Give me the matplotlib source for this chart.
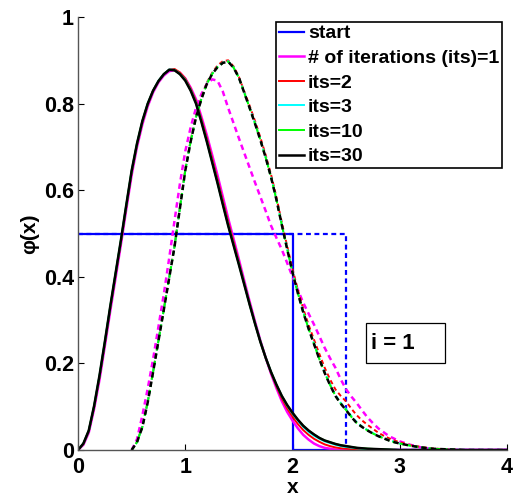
import numpy as np
import matplotlib
matplotlib.use("Agg")
import matplotlib.pyplot as plt
from matplotlib.patches import Rectangle

plt.rcParams['font.family'] = ['Liberation Sans', 'DejaVu Sans']
plt.rcParams['font.weight'] = 'bold'

# values
# solid curves: x = 0.00 .. 2.50 step 0.05, then 2.6 .. 4.0 step 0.1
x_solid = np.round(np.r_[np.arange(0, 2.501, 0.05), np.arange(2.6, 4.001, 0.1)], 2)
its1 = [0, 0.012, 0.040, 0.095, 0.162, 0.240, 0.320, 0.397, 0.475, 0.556,
        0.635, 0.700, 0.752, 0.794, 0.826, 0.849, 0.865, 0.875, 0.877, 0.871,
        0.858, 0.837, 0.810, 0.770, 0.728, 0.682, 0.635, 0.585, 0.535, 0.488,
        0.440, 0.391, 0.343, 0.297, 0.253, 0.213, 0.176, 0.143, 0.113, 0.088,
        0.068, 0.050, 0.035, 0.024, 0.015, 0.009, 0.005, 0.003, 0.001, 0,
        0,
        0, 0, 0, 0, 0, 0, 0, 0, 0, 0, 0, 0, 0, 0, 0]
its2 = [0, 0.014, 0.043, 0.099, 0.168, 0.246, 0.327, 0.404, 0.481, 0.562,
        0.641, 0.705, 0.757, 0.798, 0.830, 0.852, 0.868, 0.879, 0.880, 0.872,
        0.858, 0.835, 0.806, 0.765, 0.721, 0.674, 0.626, 0.576, 0.527, 0.481,
        0.434, 0.386, 0.339, 0.294, 0.251, 0.213, 0.178, 0.147, 0.119, 0.096,
        0.077, 0.060, 0.046, 0.035, 0.026, 0.019, 0.013, 0.009, 0.006, 0.004,
        0.003,
        0.001, 0, 0, 0, 0, 0, 0, 0, 0, 0, 0, 0, 0, 0, 0]
its3 = [0, 0.015, 0.044, 0.101, 0.171, 0.249, 0.330, 0.407, 0.484, 0.565,
        0.644, 0.707, 0.759, 0.800, 0.830, 0.853, 0.868, 0.879, 0.878, 0.869,
        0.855, 0.832, 0.802, 0.760, 0.715, 0.667, 0.619, 0.569, 0.520, 0.475,
        0.430, 0.384, 0.337, 0.293, 0.251, 0.213, 0.180, 0.150, 0.124, 0.102,
        0.084, 0.068, 0.053, 0.042, 0.033, 0.026, 0.020, 0.016, 0.012, 0.009,
        0.007,
        0.004, 0.002, 0.001, 0, 0, 0, 0, 0, 0, 0, 0, 0, 0, 0, 0]
its10 = [0, 0.015, 0.045, 0.102, 0.171, 0.250, 0.331, 0.408, 0.485, 0.566,
         0.645, 0.708, 0.760, 0.800, 0.830, 0.852, 0.868, 0.878, 0.877, 0.868,
         0.854, 0.831, 0.801, 0.759, 0.714, 0.666, 0.618, 0.568, 0.519, 0.474,
         0.429, 0.383, 0.336, 0.292, 0.250, 0.213, 0.180, 0.151, 0.125, 0.104,
         0.086, 0.070, 0.056, 0.045, 0.036, 0.028, 0.022, 0.018, 0.014, 0.011,
         0.009,
         0.005, 0.003, 0.002, 0.001, 0, 0, 0, 0, 0, 0, 0, 0, 0, 0, 0]
its30 = [0, 0.015, 0.045, 0.102, 0.172, 0.250, 0.331, 0.408, 0.485, 0.566,
         0.645, 0.708, 0.760, 0.800, 0.830, 0.852, 0.868, 0.878, 0.877, 0.868,
         0.853, 0.830, 0.800, 0.758, 0.713, 0.665, 0.617, 0.567, 0.518, 0.473,
         0.428, 0.382, 0.336, 0.292, 0.250, 0.213, 0.180, 0.151, 0.125, 0.104,
         0.086, 0.070, 0.056, 0.045, 0.036, 0.028, 0.022, 0.018, 0.014, 0.011,
         0.009,
         0.005, 0.003, 0.002, 0.001, 0, 0, 0, 0, 0, 0, 0, 0, 0, 0, 0]

# dashed curves: x = 0.50 .. 3.00 step 0.05, then 3.1 .. 4.0 step 0.1
x_dash = np.round(np.r_[np.arange(0.5, 3.001, 0.05), np.arange(3.1, 4.001, 0.1)], 2)
its1_d = [0, 0.025, 0.080, 0.142, 0.210, 0.285, 0.360, 0.443, 0.530, 0.615,
          0.690, 0.745, 0.790, 0.822, 0.845, 0.856, 0.853, 0.828, 0.790, 0.755,
          0.720, 0.686, 0.652, 0.618, 0.585, 0.552, 0.518, 0.490, 0.463, 0.432,
          0.400, 0.370, 0.340, 0.315, 0.290, 0.263, 0.236, 0.212, 0.190, 0.163,
          0.140, 0.123, 0.108, 0.091, 0.075, 0.062, 0.050, 0.041, 0.032, 0.026,
          0.020,
          0.012, 0.006, 0.003, 0.001, 0, 0, 0, 0, 0, 0]
its2_d = [0, 0.019, 0.055, 0.112, 0.182, 0.254, 0.326, 0.399, 0.472, 0.560,
          0.648, 0.715, 0.771, 0.813, 0.848, 0.871, 0.888, 0.898, 0.900, 0.886,
          0.862, 0.828, 0.795, 0.760, 0.722, 0.681, 0.636, 0.584, 0.526, 0.471,
          0.418, 0.370, 0.326, 0.289, 0.255, 0.222, 0.190, 0.163, 0.140, 0.125,
          0.112, 0.095, 0.080, 0.068, 0.058, 0.049, 0.040, 0.033, 0.027, 0.022,
          0.018,
          0.011, 0.007, 0.004, 0.002, 0.001, 0, 0, 0, 0, 0]
its3_d = [0, 0.018, 0.054, 0.111, 0.181, 0.253, 0.325, 0.398, 0.471, 0.559,
          0.646, 0.713, 0.769, 0.811, 0.846, 0.869, 0.885, 0.895, 0.898, 0.884,
          0.860, 0.826, 0.791, 0.755, 0.717, 0.676, 0.631, 0.579, 0.521, 0.465,
          0.411, 0.363, 0.319, 0.281, 0.246, 0.211, 0.180, 0.152, 0.127, 0.109,
          0.094, 0.078, 0.064, 0.054, 0.046, 0.039, 0.033, 0.028, 0.023, 0.019,
          0.015,
          0.010, 0.006, 0.003, 0.002, 0.001, 0, 0, 0, 0, 0]
its10_d = [0, 0.018, 0.053, 0.110, 0.180, 0.252, 0.324, 0.397, 0.470, 0.558,
           0.645, 0.712, 0.768, 0.810, 0.845, 0.868, 0.884, 0.894, 0.897, 0.883,
           0.860, 0.825, 0.790, 0.754, 0.716, 0.675, 0.630, 0.578, 0.520, 0.464,
           0.410, 0.362, 0.318, 0.280, 0.245, 0.210, 0.178, 0.150, 0.125, 0.107,
           0.092, 0.076, 0.062, 0.053, 0.045, 0.038, 0.032, 0.027, 0.022, 0.018,
           0.015,
           0.010, 0.006, 0.003, 0.002, 0.001, 0, 0, 0, 0, 0]
its30_d = [0, 0.018, 0.053, 0.110, 0.180, 0.252, 0.324, 0.397, 0.470, 0.558,
           0.645, 0.712, 0.768, 0.810, 0.845, 0.868, 0.884, 0.894, 0.897, 0.883,
           0.860, 0.825, 0.790, 0.754, 0.716, 0.675, 0.630, 0.578, 0.520, 0.464,
           0.410, 0.362, 0.318, 0.280, 0.245, 0.210, 0.178, 0.150, 0.125, 0.107,
           0.092, 0.076, 0.062, 0.053, 0.045, 0.038, 0.032, 0.027, 0.022, 0.018,
           0.015,
           0.010, 0.006, 0.003, 0.002, 0.001, 0, 0, 0, 0, 0]

# starting guess (box functions)
start_x = [0, 2, 2, 4]
start_y = [0.5, 0.5, 0, 0]
start_x_d = [0, 2.5, 2.5, 4]
start_y_d = [0.5, 0.5, 0, 0]

labels = ['start', '# of iterations (its)=1', 'its=2', 'its=3', 'its=10', 'its=30']
colors = ['#0000ff', '#ff00ff', '#ff0000', '#00ffff', '#00ff00', '#000000']

fig = plt.figure(figsize=(5.15, 4.96), dpi=100)
ax = fig.add_axes([0.1515, 0.0927, 0.833, 0.873])

dash = (0, (2.2, 1.6))
ax.plot(start_x, start_y, color=colors[0], lw=1.6, label=labels[0])
ax.plot(start_x_d, start_y_d, color=colors[0], lw=1.6, ls=dash)

solid = [its1, its2, its3, its10, its30]
dashed = [its1_d, its2_d, its3_d, its10_d, its30_d]
widths = [1.8, 1.4, 1.4, 1.4, 1.8]
for s, d, c, lab, w in zip(solid, dashed, colors[1:], labels[1:], widths):
    ax.plot(x_solid, s, color=c, lw=w, label=lab)
    ax.plot(x_dash, d, color=c, lw=w, ls=dash)

ax.set_xlim(0, 4)
ax.set_ylim(0, 1)
ax.set_xticks([0, 1, 2, 3, 4])
ax.set_yticks([0, 0.2, 0.4, 0.6, 0.8, 1])
ax.set_xticklabels(['0', '1', '2', '3', '4'])
ax.set_yticklabels(['0', '0.2', '0.4', '0.6', '0.8', '1'])
ax.tick_params(direction='in', length=4, width=0.8, labelsize=15.5)
ax.tick_params(axis='x', pad=5)
ax.tick_params(axis='y', pad=3)
for lbl in ax.get_xticklabels() + ax.get_yticklabels():
    lbl.set_fontweight('bold')
for sp in ['top', 'right']:
    ax.spines[sp].set_visible(False)
for sp in ['left', 'bottom']:
    ax.spines[sp].set_color('#555555')
    ax.spines[sp].set_linewidth(1.0)

ax.set_xlabel('x', fontsize=15, fontweight='bold', labelpad=0)
ax.set_ylabel('φ(x)', fontsize=15, fontweight='bold', labelpad=3)

leg = ax.legend(loc='upper right', fontsize=14, handlelength=1.3,
                handletextpad=0.2, labelspacing=0.36, borderpad=0.15,
                borderaxespad=0.25, fancybox=False, framealpha=1)
leg.get_frame().set_edgecolor('black')
leg.get_frame().set_linewidth(1.2)
for t in leg.get_texts():
    t.set_fontweight('bold')

# annotation box "i = 1"
ax.add_patch(Rectangle((2.685, 0.201), 0.737, 0.092, fc='white', ec='black',
                       lw=0.9, zorder=5))
ax.text(2.73, 0.247, 'i = 1', fontsize=16, fontweight='bold', ha='left',
        va='center', zorder=6)

fig.savefig('out.png', dpi=100)
